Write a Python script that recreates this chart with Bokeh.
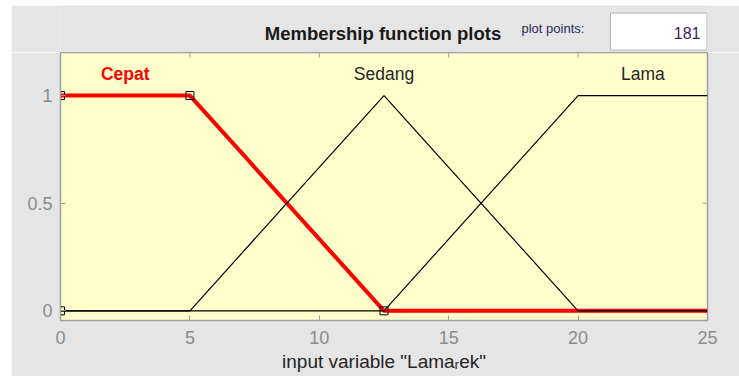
import math
from bokeh.plotting import figure
from bokeh.models import Range1d, FixedTicker, Label, Spacer
from bokeh.layouts import column, row
from bokeh.embed import file_html
from bokeh.resources import INLINE

# ---- data ----
x_cepat = [0, 5, 12.5, 25]
y_cepat = [1, 1, 0, 0]
x_sedang = [0, 5, 12.5, 20, 25]
y_sedang = [0, 0, 1, 0, 0]
x_lama = [0, 12.5, 20, 25]
y_lama = [0, 0, 1, 1]
param_x = [0, 0, 5, 12.5]
param_y = [0, 1, 1, 0]
mf_names = ["Cepat", "Sedang", "Lama"]
mf_centers = [2.5, 12.5, 22.5]
x_ticks = [0, 5, 10, 15, 20, 25]
y_ticks = [0, 0.5, 1]
y_tick_labels = ["0", "0.5", "1"]
plot_points = "181"
title_text = "Membership function plots"
x_label = 'input variable "Lama\u1d63ek"'

FONT = "Liberation Sans"
GRAY_BG = "#e5e5e5"
AX = "#a0a0a0"
TICK_TXT = "#8c8c8c"
W = 728
BL, BR = 49, 32   # left/right borders shared by both panels

# ---- header strip (title, plot points box) ----
h = figure(width=W, height=47, output_backend="svg", toolbar_location=None, tools="",
           x_range=Range1d(BL, W - BR), y_range=Range1d(47, 0),
           min_border_left=BL, min_border_right=BR, min_border_top=0, min_border_bottom=0,
           background_fill_color=GRAY_BG, border_fill_color=GRAY_BG,
           outline_line_color=None)
h.title = None
h.axis.visible = False
h.grid.visible = False
h.add_layout(Label(x=371.5, y=28, text=title_text, text_align="center",
                   text_baseline="middle", text_font=FONT, text_font_size="18.5px",
                   text_font_style="bold", text_color="#1a1a1a"))
h.add_layout(Label(x=510, y=23, text="plot points:", text_align="left",
                   text_baseline="middle", text_font=FONT, text_font_size="13px",
                   text_color="#2a2a5a"))
h.quad(left=[599], right=[695.5], top=[7.5], bottom=[44.5], fill_color="white",
       line_color="#b4b4b4", line_width=1)
h.add_layout(Label(x=689, y=27, text=plot_points, text_align="right",
                   text_baseline="middle", text_font=FONT, text_font_size="16px",
                   text_color="#3c1f5c"))

# ---- main plot ----
p = figure(frame_width=647, frame_height=268, output_backend="svg",
           toolbar_location=None, tools="",
           x_range=Range1d(0, 25), y_range=Range1d(-0.045, 1.2),
           min_border_left=BL, min_border_right=BR, min_border_top=0, min_border_bottom=56,
           background_fill_color="#ffffcc", border_fill_color=GRAY_BG,
           outline_line_color=AX, outline_line_width=1.5)
p.title = None
p.grid.visible = False

for ax in (p.xaxis[0], p.yaxis[0]):
    ax.axis_line_color = AX
    ax.major_tick_line_color = AX
    ax.major_tick_in = 5
    ax.major_tick_out = 0
    ax.minor_tick_line_color = None
    ax.major_label_text_font = FONT
    ax.major_label_text_color = TICK_TXT
    ax.major_label_text_font_size = "18px"

p.xaxis.ticker = FixedTicker(ticks=x_ticks)
p.yaxis.ticker = FixedTicker(ticks=y_ticks)
p.yaxis.major_label_overrides = {t: l for t, l in zip(y_ticks, y_tick_labels)}
p.xaxis.major_label_standoff = 10
p.yaxis.major_label_standoff = 8
p.xaxis.axis_label = x_label
p.xaxis.axis_label_text_font = FONT
p.xaxis.axis_label_text_font_size = "19px"
p.xaxis.axis_label_text_font_style = "normal"
p.xaxis.axis_label_text_color = "#262626"
p.xaxis.axis_label_standoff = 4

# inward ticks on top and right edges (box)
p.scatter(x_ticks, [p.y_range.end] * len(x_ticks), marker="dash", angle=math.pi / 2,
          size=10, line_color=AX, line_width=1)
p.scatter([p.x_range.end] * len(y_ticks), y_ticks, marker="dash",
          size=10, line_color=AX, line_width=1)

# membership functions
p.line(x_cepat, y_cepat, line_color="#ff0000", line_width=4)
p.line(x_sedang, y_sedang, line_color="#000000", line_width=1.2)
p.line(x_lama, y_lama, line_color="#000000", line_width=1.2)
p.scatter(param_x, param_y, marker="square", size=8, fill_color=None,
          line_color="#000000", line_width=1)

# MF names
for name, cx in zip(mf_names, mf_centers):
    sel = name == "Cepat"
    p.add_layout(Label(x=cx, y=1.102, text=name, text_align="center", text_baseline="middle",
                       text_font=FONT, text_font_size="17.5px",
                       text_font_style="bold" if sel else "normal",
                       text_color="#ff0000" if sel else "#262626"))

layout = row(Spacer(width=11), column(Spacer(height=5), h, p))
open("out.html", "w").write(file_html(layout, INLINE))
